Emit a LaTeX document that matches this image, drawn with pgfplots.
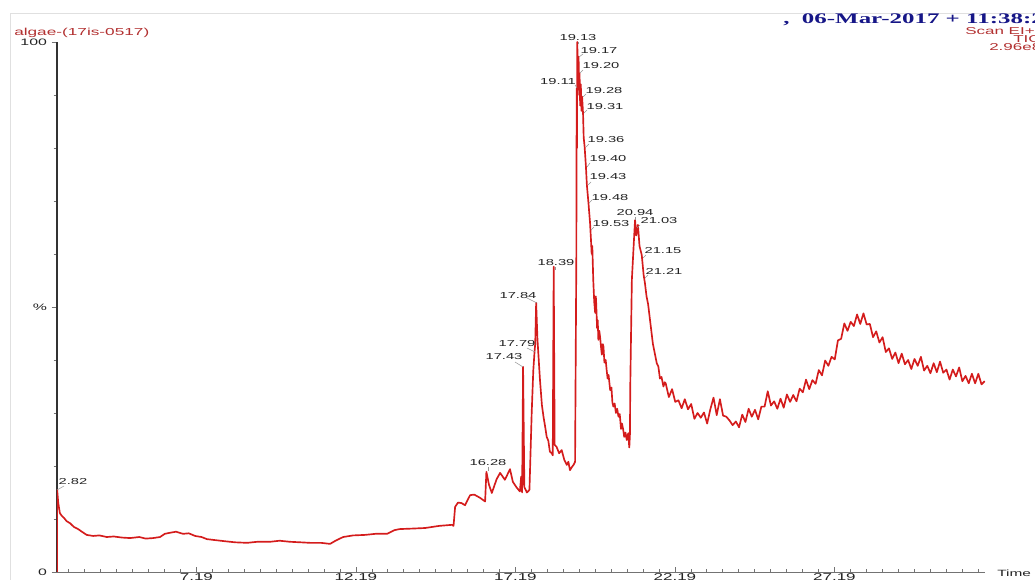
\documentclass[border=0pt]{standalone}
\usepackage{fontspec}
\setmainfont{Liberation Sans}
\newfontfamily\datefont{Liberation Serif}
\usepackage{graphicx}
\usepackage{pgfplots}
\pgfplotsset{compat=1.18}
\definecolor{trace}{RGB}{212,28,28}
\definecolor{titlered}{RGB}{178,48,48}
\definecolor{navy}{RGB}{22,22,135}
\definecolor{lblgray}{RGB}{35,35,35}
\definecolor{leader}{RGB}{150,150,150}
\newcommand{\sx}[1]{\scalebox{1.7}[1]{#1}}
\begin{document}
\begin{tikzpicture}
\begin{axis}[
  at={(42.75pt,6pt)}, anchor=south west,
  scale only axis, width=696pt, height=397.5pt,
  xmin=2.82, xmax=31.91, ymin=0, ymax=100,
  axis x line=bottom, axis y line=left,
  x axis line style={draw=black!55, line width=0.6pt, -},
  y axis line style={draw=black!80, line width=0.8pt, -},
  xtick={7.19,12.19,17.19,22.19,27.19},
  xticklabels={\sx{7.19},\sx{12.19},\sx{17.19},\sx{22.19},\sx{27.19}},
  minor xtick={3.19,3.69,...,31.69},
  ytick={0,50,100}, yticklabels={\sx{0},\sx{\%},\sx{100}},
  minor ytick={10,20,30,40,60,70,80,90},
  xtick align=inside, ytick align=outside,
  major tick length=4pt, minor tick length=2.5pt,
  tick style={draw=black!55, line width=0.5pt},
  x tick label style={font=\fontsize{7.5}{8}\selectfont, text=lblgray, inner sep=1pt},
  y tick label style={font=\fontsize{7}{8}\selectfont, text=lblgray},
  /pgf/number format/assume math mode=true,
]
\addplot[trace, line width=1.25pt, line join=round] coordinates {
(2.820,0) (2.825,15.5) (2.86,13) (2.91,11.1) (2.97,10.6) (3.04,10.2) (3.12,9.6) (3.23,9.2) (3.35,8.5) (3.48,8.1) (3.60,7.6) (3.75,7.0) (3.95,6.8) (4.15,6.9) (4.38,6.6) (4.6,6.7) (4.85,6.5) (5.11,6.4) (5.4,6.6) (5.6,6.3) (5.83,6.4) (6.05,6.6) (6.2,7.2) (6.36,7.4) (6.55,7.6) (6.77,7.2) (6.95,7.3) (7.15,6.8) (7.35,6.6) (7.52,6.2) (7.8,6.0) (8.09,5.8) (8.4,5.6) (8.78,5.5) (9.1,5.7) (9.50,5.7) (9.8,5.9) (10.12,5.7) (10.45,5.6) (10.75,5.5) (11.1,5.5) (11.38,5.3) (11.55,5.9) (11.79,6.6) (12.1,6.9) (12.48,7.0) (12.8,7.2) (13.17,7.2) (13.4,7.9) (13.57,8.1) (14.0,8.2) (14.36,8.3) (14.8,8.7) (15.20,8.9) (15.25,8.7) (15.30,12.3) (15.39,13.1) (15.5,13.0) (15.61,12.6) (15.77,14.5) (15.9,14.6) (16.08,14.0) (16.24,13.3) (16.28,18.9) (16.36,16.5) (16.45,14.9) (16.6,17.5) (16.71,18.7) (16.86,17.4) (17.02,19.4) (17.11,17.0) (17.22,16.0) (17.33,15.2) (17.37,18.0) (17.40,15.0) (17.43,38.7) (17.47,16.0) (17.55,15.0) (17.63,15.5) (17.70,30) (17.75,38) (17.79,41.6) (17.81,43) (17.84,50.8) (17.88,44) (17.96,36.2) (18.02,31.5) (18.07,29.3) (18.12,27.5) (18.17,25.5) (18.22,24.8) (18.27,22.7) (18.33,22.4) (18.36,22.0) (18.39,57.6) (18.42,24.0) (18.48,23.6) (18.56,22.4) (18.64,23.0) (18.72,21.2) (18.80,20.2) (18.85,20.8) (18.90,19.2) (18.96,19.8) (19.01,20.2) (19.06,20.8) (19.10,60) (19.11,91.3) (19.12,80) (19.13,100) (19.15,92) (19.17,97.2) (19.19,90) (19.20,94.1) (19.22,88) (19.24,92) (19.26,87) (19.28,89.7) (19.31,86.5) (19.33,82) (19.36,80.2) (19.40,76.5) (19.43,73.0) (19.48,69.6) (19.53,65.8) (19.56,62.5) (19.58,60) (19.60,61.5) (19.63,55.1) (19.66,51) (19.69,48.9) (19.71,52) (19.72,51) (19.75,46) (19.77,47.5) (19.79,43.8) (19.82,45.5) (19.85,44) (19.88,42) (19.90,41) (19.93,43) (19.95,42.5) (19.98,39.5) (20.02,40) (20.05,38.1) (20.08,36.5) (20.11,37.2) (20.16,34.3) (20.2,34.8) (20.23,32) (20.26,31.2) (20.3,31.8) (20.34,30) (20.38,30.8) (20.42,29.3) (20.46,29.8) (20.50,27) (20.53,28) (20.57,26.8) (20.6,25.5) (20.64,26.3) (20.68,24.9) (20.71,25.8) (20.73,26.2) (20.75,24.2) (20.76,23.5) (20.78,26) (20.79,35) (20.84,55.1) (20.90,62) (20.94,66.4) (20.98,63.5) (21.03,65.5) (21.08,61.5) (21.15,59.8) (21.21,56.0) (21.25,54.5) (21.30,52) (21.35,50.5) (21.41,47.5) (21.45,45.5) (21.5,43) (21.55,41.5) (21.62,39.4) (21.67,38.8) (21.72,36.5) (21.77,36.8) (21.83,35.0) (21.87,35.8)
(21.9,35.6) (22.0,33.0) (22.1,34.5) (22.2,32.1) (22.3,32.4) (22.4,30.9) (22.5,32.6) (22.6,30.7) (22.7,31.7) (22.8,28.9) (22.9,30.0) (23.0,29.1) (23.1,30.1) (23.2,28.0) (23.3,30.7) (23.4,32.9) (23.5,29.6) (23.6,32.6) (23.7,29.5) (23.8,29.3) (23.9,28.6) (24.0,27.7) (24.1,28.4) (24.2,27.3) (24.3,29.7) (24.4,28.3) (24.5,30.8) (24.6,29.3) (24.7,30.6) (24.8,28.8) (24.9,31.2) (25.0,31.2) (25.1,34.1) (25.2,31.4) (25.3,32.2) (25.4,30.8) (25.5,32.7) (25.6,31.0) (25.7,33.5) (25.8,32.1) (25.9,33.4) (26.0,32.2) (26.1,34.6) (26.2,33.9) (26.3,36.3) (26.4,34.5) (26.5,36.2) (26.6,35.5) (26.7,38.1) (26.8,37.1) (26.9,39.9) (27.0,38.9) (27.1,40.6) (27.2,40.1) (27.3,43.7) (27.4,44.0) (27.5,46.9) (27.6,45.5) (27.7,47.2) (27.8,46.4) (27.9,48.6) (28.0,46.8) (28.1,48.8) (28.2,46.7) (28.3,46.8) (28.4,44.3) (28.5,45.4) (28.6,43.3) (28.7,44.3) (28.8,41.5) (28.9,42.2) (29.0,40.2) (29.1,41.4) (29.2,39.4) (29.3,41.2) (29.4,39.2) (29.5,40.0) (29.6,38.3) (29.7,40.2) (29.8,38.9) (29.9,40.6) (30.0,38.0) (30.1,38.9) (30.2,37.5) (30.3,39.4) (30.4,37.7) (30.5,39.7) (30.6,37.6) (30.7,38.2) (30.8,36.3) (30.9,38.2) (31.0,36.9) (31.1,38.6) (31.2,36.0) (31.3,37.0) (31.4,35.6) (31.5,37.4) (31.6,35.6) (31.7,37.4) (31.8,35.4) (31.9,36.0)
};
\end{axis}
\begin{scope}[x=0.75pt,y=-0.75pt,yshift=435pt]
\draw[black!12, line width=0.6pt] (10,585) -- (10,13) -- (1040,13);
% headers
\node[anchor=base west, inner sep=0, text=titlered, font=\fontsize{7.6}{8}\selectfont] at (14,36) {\sx{algae-(17is-0517)}};
\node[anchor=base west, inner sep=0, text=navy, font=\datefont\bfseries\fontsize{11}{12}\selectfont] at (783,24) {\sx{,\ \ 06-Mar-2017 + 11:38:24}};
\node[anchor=base west, inner sep=0, text=titlered, font=\fontsize{7.5}{8}\selectfont] at (965,35) {\sx{Scan EI+}};
\node[anchor=base west, inner sep=0, text=titlered, font=\fontsize{7.5}{8}\selectfont] at (1013,43) {\sx{TIC}};
\node[anchor=base west, inner sep=0, text=titlered, font=\fontsize{7.5}{8}\selectfont] at (989,51) {\sx{2.96e8}};
\node[anchor=base west, inner sep=0, text=lblgray, font=\fontsize{6.8}{7}\selectfont] at (997,577) {\sx{Time}};
% peak labels
\tikzset{pl/.style={anchor=center, inner sep=0, text=lblgray, font=\fontsize{6.5}{7}\selectfont}}
\foreach \t/\x/\y in {2.82/73/482, 16.28/488/463, 17.43/504/357, 17.79/517/344, 17.84/518/296, 18.39/556/263, 19.13/578/38, 19.17/599/51, 19.20/601/66, 19.11/558/82, 19.28/604/91, 19.31/605/107, 19.36/606/140, 19.40/608/159, 19.43/608/177, 19.48/610/198, 19.53/611/224, 20.94/635/213, 21.03/659/221, 21.15/663/251, 21.21/664/271}
  {\node[pl] at (\x,\y) {\sx{\t}};}
\foreach \a/\b/\c/\d in {57/490/64/486, 488/467/488/471, 515/362/523/367, 527/348/535/352, 527/298/537/303, 555/267/555/270, 578/42/578/44, 579/57/583/54, 580/73/583/70, 575/85/577/88, 583/97/586/94, 584/113/587/110, 586/147/589/144, 587/167/590/163, 588/185/591/182, 589/203/592/200, 591/230/594/227, 635/217/635/220, 637/228/640/225, 643/258/646/255, 645/278/648/275}
  {\draw[leader, line width=0.4pt] (\a,\b) -- (\c,\d);}
\end{scope}
\pgfresetboundingbox
\path[use as bounding box] (0,0) rectangle (776.25pt,435pt);
\end{tikzpicture}
\end{document}
